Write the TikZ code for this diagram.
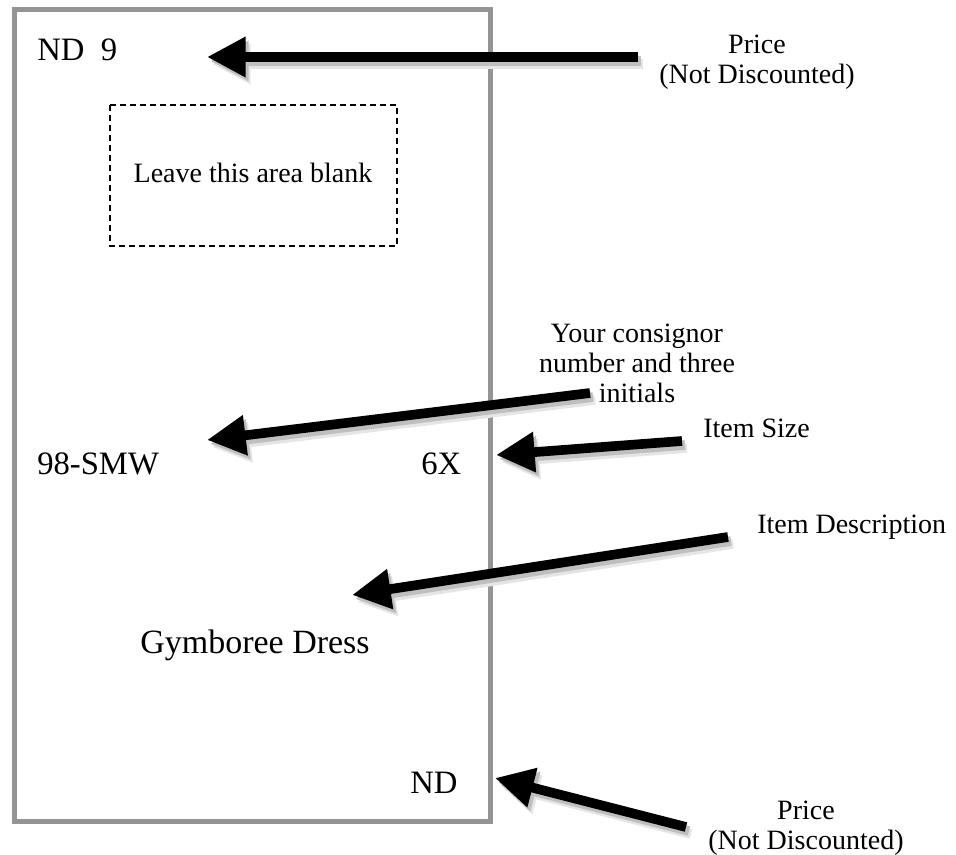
\documentclass[tikz,border=0pt]{standalone}
\usepackage{fontspec}
\setmainfont{Liberation Serif}
\usetikzlibrary{calc, positioning}
\usetikzlibrary{arrows.meta}
\definecolor{cardgray}{RGB}{148,148,148}

\begin{document}
\begin{tikzpicture}[x=0.75pt,y=-0.75pt,
  pointer/.style={line width=7.25pt, -{Triangle[length=29pt,width=28.5pt]}},
  big/.style={inner sep=0pt, font=\fontsize{24.5}{28}\selectfont},
  small/.style={inner sep=0pt, align=center, font=\fontsize{21}{22.5}\selectfont}]
\useasboundingbox (0,0) rectangle (956,855);

% the tag
\draw[cardgray, line width=3.75pt] (14.5,10) rectangle (490.5,821);
\draw[line width=1pt, dash pattern=on 4.5pt off 3pt] (110,105) rectangle (397,246);

\node[big, anchor=base west] (price) at (37,61) {ND\ \ 9};
\node[small, anchor=base] (blank) at (253,183) {Leave this area blank};
\node[big, anchor=base west] (consignor) at (37,474) {98-SMW};
\node[big, anchor=base west] (size) at (421,474) {6X};
\node[big, anchor=base west, font=\fontsize{25.5}{30}\selectfont] (desc) at (140,653) {Gymboree Dress};
\node[big, anchor=base west] (nd) at (410,793) {ND};

% labels
\node[small, anchor=north] (pricetop) at (757,35) {Price\\(Not Discounted)};
\node[small, anchor=north] (consignlbl) at (637,324) {Your consignor\\number and three\\initials};
\node[small, anchor=base west] (sizelbl) at (703,437) {Item Size};
\node[small, anchor=base west] (desclbl) at (757,533) {Item Description};
\node[small, anchor=north] (pricebot) at (806,801) {Price\\(Not Discounted)};

% arrow ends
\coordinate (T1) at (638,57);  \coordinate (H1) at (207,57);
\coordinate (T2) at (590,393); \coordinate (H2) at (207,440);
\coordinate (T3) at (682,441); \coordinate (H3) at (496,455);
\coordinate (T4) at (728,537); \coordinate (H4) at (352,595);
\coordinate (T5) at (686,827); \coordinate (H5) at (495,778);

\foreach \t/\h in {T1/H1,T2/H2,T3/H3,T4/H4,T5/H5}{
  \draw[pointer, black!10] ($(\t)+(5,7)$) -- ($(\h)+(5,7)$);
  \draw[pointer, black!25] ($(\t)+(3,4)$) -- ($(\h)+(3,4)$);
  \draw[pointer] (\t) -- (\h);
}
\end{tikzpicture}
\end{document}
